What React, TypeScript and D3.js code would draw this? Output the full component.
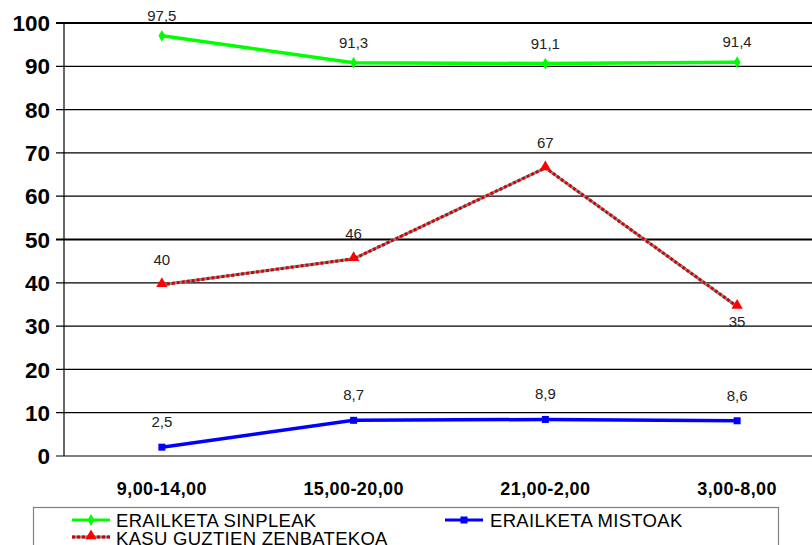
import React from "react";
import * as d3 from "d3";

const categories = ["9,00-14,00", "15,00-20,00", "21,00-2,00", "3,00-8,00"];
const sinpleak = [97.5, 91.3, 91.1, 91.4];
const sinpleakLabels = ["97,5", "91,3", "91,1", "91,4"];
const mistoak = [2.5, 8.7, 8.9, 8.6];
const mistoakLabels = ["2,5", "8,7", "8,9", "8,6"];
const guztien = [40, 46, 67, 35];
const guztienLabels = ["40", "46", "67", "35"];
const yTicks = [0, 10, 20, 30, 40, 50, 60, 70, 80, 90, 100];

const W = 812;
const H = 545;
const plotLeft = 64;
const plotTop = 23;
const plotBottom = 456;

export default function App() {
  const x = d3.scaleBand<string>().domain(categories).range([66, 66 + 4 * 191.75]);
  const y = d3.scaleLinear().domain([0, 100]).range([plotBottom, plotTop]);
  const cx = (c: string) => (x(c) as number) + x.bandwidth() / 2;
  const line = d3
    .line<number>()
    .x((_, i) => cx(categories[i]))
    .y((d) => y(d) + 2);

  const font = "'Liberation Sans', Arial, sans-serif";

  return (
    <svg width={W} height={H} style={{ position: "absolute", left: 0, top: 0, background: "#fff" }}>
      <rect x={0} y={0} width={W} height={H} fill="#fff" />
      {yTicks.map((t) => (
        <g key={t}>
          <line
            x1={56}
            x2={W}
            y1={y(t)}
            y2={y(t)}
            stroke="#000"
            strokeWidth={t === 100 || t === 50 ? 2 : 1.2}
          />
          <text
            x={50}
            y={y(t)}
            dy="0.36em"
            textAnchor="end"
            fontFamily={font}
            fontWeight="bold"
            fontSize={22.5}
            fill="#000"
          >
            {t}
          </text>
        </g>
      ))}
      <line x1={plotLeft} x2={plotLeft} y1={plotTop} y2={plotBottom} stroke="#000" strokeWidth={1.2} />
      {categories.map((c) => (
        <text
          key={c}
          x={cx(c)}
          y={495}
          textAnchor="middle"
          fontFamily={font}
          fontWeight="bold"
          fontSize={18}
          letterSpacing={0.4}
          fill="#000"
        >
          {c}
        </text>
      ))}

      {/* green */}
      <path d={line(sinpleak) || ""} fill="none" stroke="#00ff00" strokeWidth={3.5} />
      {sinpleak.map((v, i) => (
        <g key={i}>
          <path
            d={d3.symbol(d3.symbolDiamond, 40)() || ""}
            transform={`translate(${cx(categories[i])},${y(v) + 2})`}
            fill="#00ff00"
          />
          <text
            x={cx(categories[i])}
            y={y(v) - 13}
            textAnchor="middle"
            fontFamily={font}
            fontSize={15}
            fill="#222"
          >
            {sinpleakLabels[i]}
          </text>
        </g>
      ))}

      {/* red */}
      <path d={line(guztien) || ""} fill="none" stroke="#888" strokeWidth={3} />
      <path d={line(guztien) || ""} fill="none" stroke="#d80000" strokeWidth={3} strokeDasharray="3 2" />
      {guztien.map((v, i) => (
        <g key={i}>
          <path
            d={d3.symbol(d3.symbolTriangle, 55)() || ""}
            transform={`translate(${cx(categories[i])},${y(v) + 1})`}
            fill="#ff0000"
          />
          <text
            x={cx(categories[i])}
            y={i === 3 ? y(v) + 23 : y(v) - 18}
            textAnchor="middle"
            fontFamily={font}
            fontSize={15}
            fill="#222"
          >
            {guztienLabels[i]}
          </text>
        </g>
      ))}

      {/* blue */}
      <path d={line(mistoak) || ""} fill="none" stroke="#0000ff" strokeWidth={3.5} />
      {mistoak.map((v, i) => (
        <g key={i}>
          <rect
            x={cx(categories[i]) - 3.5}
            y={y(v) + 2 - 3.5}
            width={7}
            height={7}
            fill="#0000ff"
          />
          <text
            x={cx(categories[i])}
            y={y(v) - 18}
            textAnchor="middle"
            fontFamily={font}
            fontSize={15}
            fill="#222"
          >
            {mistoakLabels[i]}
          </text>
        </g>
      ))}

      {/* legend */}
      <rect x={33.5} y={507.5} width={745} height={60} fill="#fff" stroke="#808080" strokeWidth={1.2} />
      <line x1={72} x2={110} y1={520} y2={520} stroke="#00ff00" strokeWidth={3} />
      <path d={d3.symbol(d3.symbolDiamond, 40)() || ""} transform="translate(91,520)" fill="#00ff00" />
      <text x={116} y={520} dy="0.36em" fontFamily={font} fontSize={18.5} letterSpacing={0.3} fill="#000">
        ERAILKETA SINPLEAK
      </text>
      <line x1={445} x2={483} y1={520} y2={520} stroke="#0000ff" strokeWidth={3} />
      <rect x={460.5} y={516.5} width={7} height={7} fill="#0000ff" />
      <text x={490} y={520} dy="0.36em" fontFamily={font} fontSize={18.5} letterSpacing={0.3} fill="#000">
        ERAILKETA MISTOAK
      </text>
      <line x1={72} x2={110} y1={537} y2={537} stroke="#888" strokeWidth={3} />
      <line x1={72} x2={110} y1={537} y2={537} stroke="#d80000" strokeWidth={3} strokeDasharray="3 2" />
      <path d={d3.symbol(d3.symbolTriangle, 55)() || ""} transform="translate(91,536)" fill="#ff0000" />
      <text x={116} y={538} dy="0.36em" fontFamily={font} fontSize={18.5} letterSpacing={0.3} fill="#000">
        KASU GUZTIEN ZENBATEKOA
      </text>
    </svg>
  );
}
